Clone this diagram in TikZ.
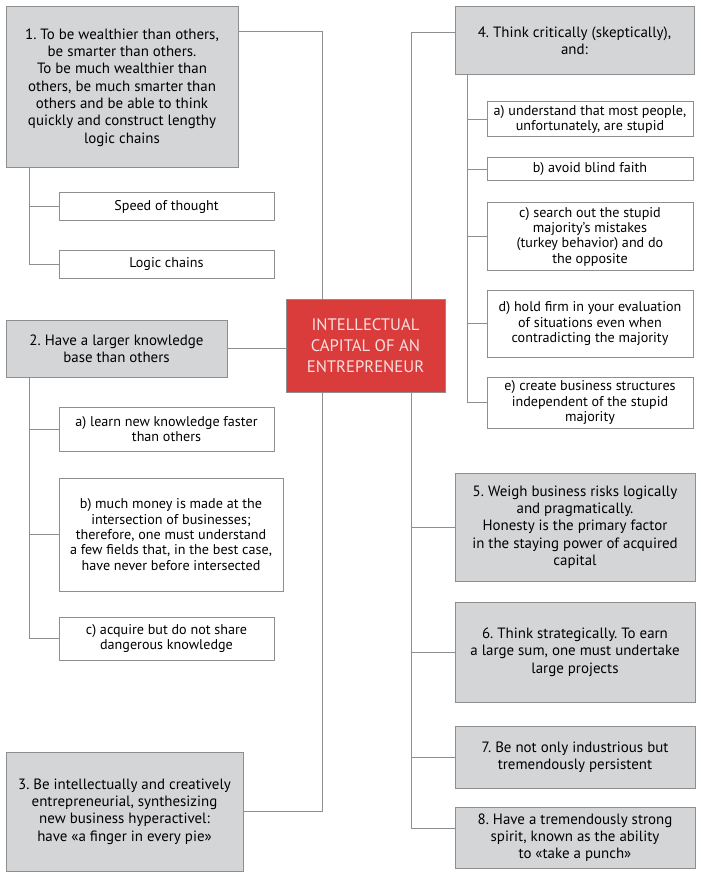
\documentclass[tikz,border=0pt]{standalone}
\usepackage{fontspec}
\setmainfont{PT Sans}
\usepackage{tikz}
\frenchspacing

\definecolor{boxgray}{HTML}{D4D5D7}
\definecolor{linegray}{HTML}{8C8E90}
\definecolor{capred}{HTML}{DA3C3C}
\definecolor{captext}{HTML}{F8E0E0}

\begin{document}
\begin{tikzpicture}[
		x=0.75pt, y=-0.75pt,
		every node/.style={rectangle, draw=linegray, line width=0.75pt, inner sep=0pt, align=center},
		mainbox/.style={fill=boxgray, font=\fontsize{11.2}{13}\selectfont},
		subbox/.style={fill=white, font=\fontsize{10.6}{11.5}\selectfont},
		link/.style={draw=linegray, line width=0.75pt}
	]
  \useasboundingbox (0,0) rectangle (700,877);
  % centre
  \node (cap) [fill=capred, text=captext, font=\fontsize{12.5}{15.5}\selectfont,
    minimum width=119.25pt, minimum height=69.75pt] at (365.5, 345.5)
    {INTELLECTUAL\\ CAPITAL OF AN\\ ENTREPRENEUR};
  % left side
  \node (s_1) [mainbox, minimum width=174pt, minimum height=120.75pt] at (122, 87.5)
    {1. To be wealthier than others,\\ be smarter than others.\\ To be much wealthier than\\ others, be much smarter than\\ others and be able to think\\ quickly and construct lengthy\\ logic chains};
  \node (s_1a) [subbox, minimum width=161.25pt, minimum height=21pt] at (166.5, 207) {Speed of thought};
  \node (s_1b) [subbox, minimum width=161.25pt, minimum height=21pt] at (166.5, 264) {Logic chains};
  \node (s_2) [mainbox, minimum width=165.75pt, minimum height=42.75pt] at (116.5, 348.5)
    {2. Have a larger knowledge\\ base than others};
  \node (s_2a) [subbox, minimum width=161.25pt, minimum height=33pt] at (166.5, 429)
    {a) learn new knowledge faster\\ than others};
  \node (s_2b) [subbox, minimum width=168pt, minimum height=84.75pt] at (171, 534.5)
    {b) much money is made at the\\ intersection of businesses;\\ therefore, one must understand\\ a few fields that, in the best case,\\ have never before intersected};
  \node (s_2c) [subbox, minimum width=161.25pt, minimum height=32.25pt] at (166.5, 638.5)
    {c) acquire but do not share\\ dangerous knowledge};
  \node (s_3) [mainbox, minimum width=177.75pt, minimum height=89.25pt] at (124.5, 811.5)
    {3. Be intellectually and creatively\\ entrepreneurial, synthesizing\\ new business hyperactivel:\\ have «a finger in every pie»};
  % right side
  \node (s_4) [mainbox, minimum width=179.25pt, minimum height=51pt] at (574.5, 41)
    {4. Think critically (skeptically),\\ and:};
  \node (s_4a) [subbox, minimum width=154.5pt, minimum height=26.25pt] at (590, 119.5)
    {a) understand that most people,\\ unfortunately, are stupid};
  \node (s_4b) [subbox, minimum width=154.5pt, minimum height=17.25pt] at (590, 169.5)
    {b) avoid blind faith};
  \node (s_4c) [subbox, minimum width=154.5pt, minimum height=50.25pt] at (590, 236.5)
    {c) search out the stupid\\ majority’s mistakes\\ (turkey behavior) and do\\ the opposite};
  \node (s_4d) [subbox, minimum width=154.5pt, minimum height=50.25pt] at (590, 323.5)
    {d) hold firm in your evaluation\\ of situations even when\\ contradicting the majority};
  \node (s_4e) [subbox, minimum width=154.5pt, minimum height=38.25pt] at (590, 402.5)
    {e) create business structures\\ independent of the stupid\\ majority};
  \node (s_5) [mainbox, minimum width=180pt, minimum height=81pt] at (575, 527)
    {5. Weigh business risks logically\\ and pragmatically.\\ Honesty is the primary factor\\ in the staying power of acquired\\ capital};
  \node (s_6) [mainbox, minimum width=180pt, minimum height=75pt] at (575, 652)
    {6. Think strategically. To earn\\ a large sum, one must undertake\\ large projects};
  \node (s_7) [mainbox, minimum width=180pt, minimum height=46.5pt] at (575, 757)
    {7. Be not only industrious but\\ tremendously persistent};
  \node (s_8) [mainbox, minimum width=180pt, minimum height=45.75pt] at (575, 837.5)
    {8. Have a tremendously strong\\ spirit, known as the ability\\ to «take a punch»};
  % trunks
  \coordinate (j_1) at (322, 32);
  \coordinate (j_4) at (411, 33);
  \coordinate (j_8) at (411, 828);
  \coordinate (t_1) at (29, 0);
  \coordinate (t_4) at (467, 0);
  \draw [link] (s_1.east |- j_1) -- (j_1) -- (cap.north -| j_1);
  \draw [link] (cap.south -| j_1) |- (s_3.east);
  \draw [link] (s_2.east) -- (s_2.east -| cap.west);
  \draw [link] (s_4.west |- j_4) -- (j_4) -- (cap.north -| j_4);
  \draw [link] (cap.south -| j_4) -- (j_8) -- (s_8.west |- j_8);
  \foreach \n in {5,6,7}
    \draw [link] (s_\n.west -| j_4) -- (s_\n.west);
  % branches
  \draw [link] (s_1.south -| t_1) |- (s_1b.west);
  \draw [link] (s_1a.west -| t_1) -- (s_1a.west);
  \draw [link] (s_2.south -| t_1) |- (s_2c.west);
  \foreach \n in {a,b}
    \draw [link] (s_2\n.west -| t_1) -- (s_2\n.west);
  \draw [link] (s_4.south -| t_4) |- (s_4e.west);
  \foreach \n in {a,b,c,d}
    \draw [link] (s_4\n.west -| t_4) -- (s_4\n.west);
\end{tikzpicture}
\end{document}
